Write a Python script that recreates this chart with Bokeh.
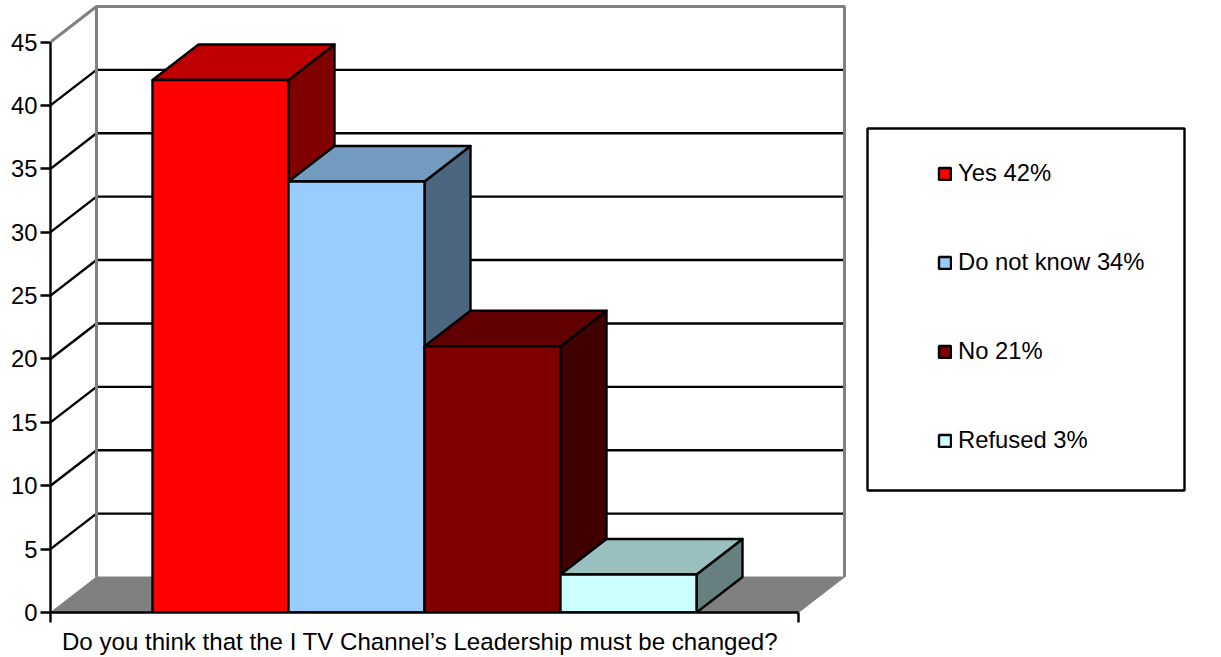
from bokeh.plotting import figure
from bokeh.embed import file_html
from bokeh.resources import INLINE
from bokeh.models import (Range1d, LinearAxis, FixedTicker, Legend, LegendItem, BoxAnnotation)

# data
series = ["Yes 42%", "Do not know 34%", "No 21%", "Refused 3%"]
values = [42, 34, 21, 3]
front_colors = ["#FF0000", "#99CCFF", "#800000", "#CCFFFF"]
top_colors = ["#BF0000", "#739ABF", "#600000", "#99BFBF"]
side_colors = ["#800000", "#4D6680", "#400000", "#668080"]
y_ticks = [0, 5, 10, 15, 20, 25, 30, 35, 40, 45]
x_label = "Do you think that the I TV Channel\u2019s Leadership must be changed?"

FONT = "Liberation Sans"
FS = "23.8px"
W, H = 1221, 657
LEFT, BOTTOM = 50, 45
LW = 2.4
PXX = 136.0            # pixels per bar
PXY = 570.5 / 45       # pixels per unit of value
DX = 46 / PXX          # 3D depth in x units
DY = 35.5 / PXY        # 3D depth in y units
X0, X1 = -0.75, 4.75   # category extent
XLABEL_AT = 1.967      # where the axis title sits
GREY = "#808080"

p = figure(width=W, height=H, output_backend="svg", toolbar_location=None,
           x_range=Range1d(X0, X0 + (W - LEFT) / PXX),
           y_range=Range1d(0, (H - BOTTOM) / PXY),
           x_axis_type=None, y_axis_type=None,
           min_border_left=LEFT, min_border_bottom=BOTTOM,
           min_border_top=0, min_border_right=0,
           outline_line_color=None, background_fill_color="white",
           border_fill_color="white")
p.styles = {"position": "absolute", "left": "0px", "top": "0px"}

# floor
p.patch([X0, X0 + DX, X1 + DX, X1], [0, DY, DY, 0],
        fill_color=GREY, line_color=GREY, line_width=1)

# gridlines: left wall + back wall
grid = [t for t in y_ticks if 0 < t < y_ticks[-1]]
p.multi_line([[X0, X0 + DX, X1 + DX] for _ in grid],
             [[t, t + DY, t + DY] for t in grid],
             line_color="black", line_width=LW)

# grey wall edges
top = y_ticks[-1]
p.line([X0, X0 + DX, X1 + DX, X1 + DX], [top, top + DY, top + DY, DY],
       line_color=GREY, line_width=3)
p.line([X0 + DX, X0 + DX], [top + DY, DY], line_color=GREY, line_width=3)

# bars
renderers = []
for i, v in enumerate(values):
    l, r = float(i), float(i + 1)
    p.patch([r, r + DX, r + DX, r], [0, DY, v + DY, v],
            fill_color=side_colors[i], line_color="black", line_width=LW, line_join="round")
    p.patch([l, l + DX, r + DX, r], [v, v + DY, v + DY, v],
            fill_color=top_colors[i], line_color="black", line_width=LW, line_join="round")
    renderers.append(p.quad(left=l, right=r, bottom=0, top=v,
                            fill_color=front_colors[i], line_color="black", line_width=LW))

# axes
yaxis = LinearAxis(ticker=FixedTicker(ticks=y_ticks), bounds=(0, top),
                   axis_line_color="black", axis_line_width=LW,
                   major_tick_line_color="black", major_tick_line_width=LW,
                   major_tick_in=0, major_tick_out=10, minor_tick_out=0, minor_tick_in=0,
                   major_label_text_font=FONT, major_label_text_font_size=FS,
                   major_label_text_color="black", major_label_standoff=3)
p.add_layout(yaxis, "left")

xaxis = LinearAxis(ticker=FixedTicker(ticks=[XLABEL_AT], minor_ticks=[X0, X1]), bounds=(X0, X1),
                   axis_line_color="black", axis_line_width=LW,
                   major_tick_in=0, major_tick_out=0, major_tick_line_color=None,
                   minor_tick_in=0, minor_tick_out=10, minor_tick_line_color="black",
                   minor_tick_line_width=LW,
                   major_label_overrides={XLABEL_AT: x_label},
                   major_label_text_font=FONT, major_label_text_font_size="24.1px",
                   major_label_text_color="black", major_label_standoff=5)
p.add_layout(xaxis, "below")

# legend
box = BoxAnnotation(left=867, right=1184, top=128, bottom=490,
                    left_units="canvas", right_units="canvas",
                    top_units="canvas", bottom_units="canvas",
                    fill_color="white", fill_alpha=1, line_color="black", line_width=LW,
                    line_alpha=1)
p.add_layout(box)

legend = Legend(items=[LegendItem(label=s, renderers=[r]) for s, r in zip(series, renderers)],
                location=(887, 158), orientation="vertical",
                background_fill_alpha=0, border_line_color=None,
                padding=0, margin=0, spacing=61, glyph_width=15, glyph_height=15,
                label_standoff=6, label_height=23,
                label_text_font=FONT, label_text_font_size=FS, label_text_color="black")
p.add_layout(legend, "center")

open("out.html", "w").write(file_html(p, INLINE))
